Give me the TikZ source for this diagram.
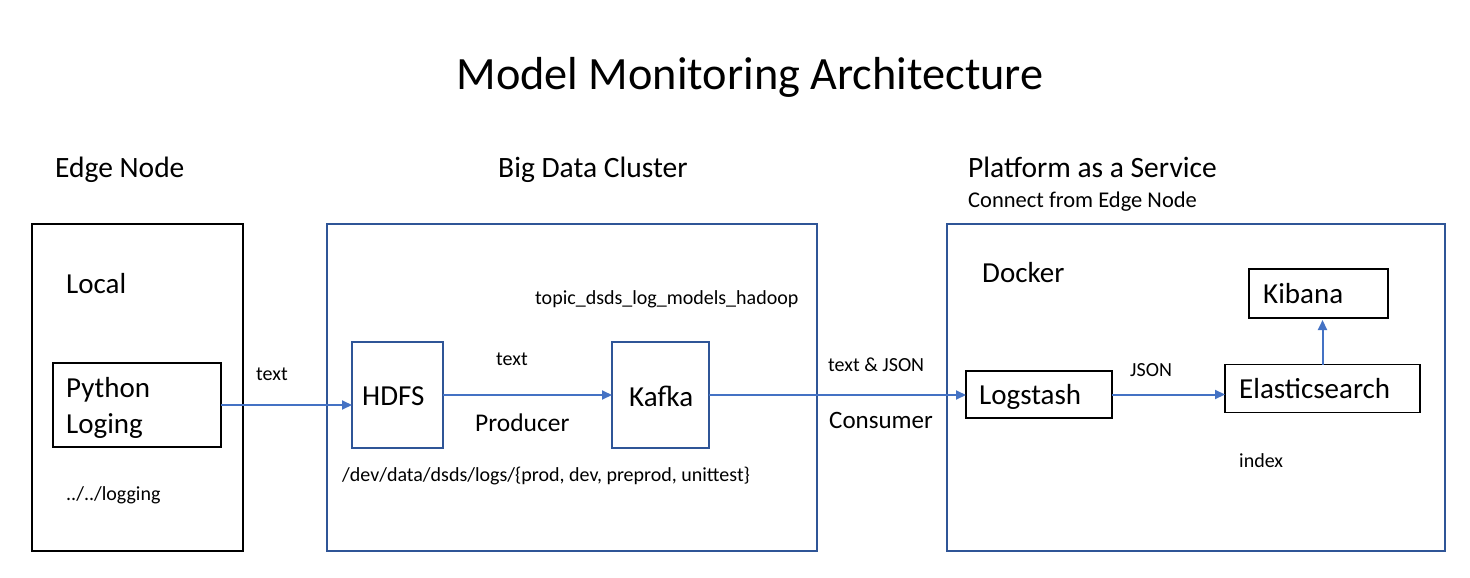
\documentclass[tikz,border=0pt]{standalone}
\usepackage{fontspec}
\setmainfont{Carlito}
\usetikzlibrary{arrows.meta}
\definecolor{boxblue}{HTML}{2F5597}
\definecolor{arrblue}{HTML}{4472C4}
\tikzset{
  frame/.style={draw=boxblue, line width=2pt, inner sep=0pt, outer sep=0pt},
  blackframe/.style={draw=black, line width=2.5pt, inner sep=0pt, outer sep=0pt},
  thinbox/.style={draw=black, line width=1.2pt, inner sep=0pt, outer sep=0pt},
  bluebox/.style={draw=boxblue, line width=2.5pt, inner sep=0pt, outer sep=0pt},
  arr/.style={draw=arrblue, line width=2pt, -{Triangle[length=10pt,width=9pt]}},
  txt/.style={anchor=base west, inner sep=0pt},
  titlefont/.style={font=\fontsize{46.3}{55}\selectfont},
  headfont/.style={font=\fontsize{29.5}{35}\selectfont},
  medfont/.style={font=\fontsize{29}{35}\selectfont},
  edgefont/.style={font=\fontsize{25.5}{31}\selectfont},
  subfont/.style={font=\fontsize{22.5}{27}\selectfont},
  smallfont/.style={font=\fontsize{20}{24}\selectfont},
}
\begin{document}
\begin{tikzpicture}[x=1pt,y=-1pt]
\useasboundingbox (0,0) rectangle (1470,578);
% title and headings
\node[titlefont, anchor=base, inner sep=0pt] (title) at (750,89) {Model Monitoring Architecture};
\node[headfont, txt] (hedge) at (55,177) {Edge Node};
\node[headfont, txt] (hbdc) at (498,177) {Big Data Cluster};
\node[headfont, txt] (hpaas) at (968,177) {Platform as a Service};
\node[subfont, txt] (hconn) at (968,207) {Connect from Edge Node};
% outer frames
\node[blackframe, minimum width=211pt, minimum height=327pt] (edge) at (137.5,387.5) {};
\node[frame, minimum width=490pt, minimum height=327pt] (bdc) at (572,387.5) {};
\node[frame, minimum width=498pt, minimum height=327pt] (paas) at (1196,387.5) {};
% edge node contents
\node[medfont, txt] (local) at (66,293) {Local};
\node[thinbox, minimum width=168pt, minimum height=84pt] (py) at (137,405) {};
\node[medfont, txt] (pyt1) at (66,397) {Python};
\node[medfont, txt] (pyt2) at (66,433) {Loging};
\node[smallfont, txt] (logpath) at (66,500) {../../logging};
% big data cluster contents
\node[bluebox, minimum width=91pt, minimum height=106pt] (hdfs) at (397.5,395) {};
\node[medfont, txt] (hdfst) at (362,405) {HDFS};
\node[bluebox, minimum width=97pt, minimum height=106pt] (kafka) at (660.5,395) {};
\node[medfont, txt] (kafkat) at (629,406) {Kafka};
\node[smallfont, txt] (topic) at (535,304) {topic\_dsds\_log\_models\_hadoop};
\node[smallfont, txt] (lab2) at (496,365) {text};
\node[edgefont, txt] (producer) at (475,431) {Producer};
\node[smallfont, txt] (devpath) at (342,481) {/dev/data/dsds/logs/\{prod, dev, preprod, unittest\}};
% between clusters
\node[smallfont, txt] (lab1) at (256,380) {text};
\node[smallfont, txt] (lab3) at (828,371) {text \& JSON};
\node[edgefont, font=\fontsize{25}{30}\selectfont, txt] (consumer) at (829,428) {Consumer};
% PaaS contents
\node[medfont, txt] (docker) at (982,282) {Docker};
\node[thinbox, minimum width=146pt, minimum height=47pt] (ls) at (1039,394.5) {};
\node[medfont, txt] (lst) at (979,404) {Logstash};
\node[smallfont, txt] (lab4) at (1130,376) {JSON};
\node[thinbox, minimum width=195pt, minimum height=48pt] (es) at (1322.5,388.5) {};
\node[medfont, txt] (est) at (1239,398) {Elasticsearch};
\node[thinbox, minimum width=139pt, minimum height=49pt] (kb) at (1318.5,293.5) {};
\node[medfont, txt] (kbt) at (1263,303) {Kibana};
\node[smallfont, txt] (index) at (1239,467) {index};
% connectors
\draw[arr] (py.east) -- (py.east -| hdfs.west);
\draw[arr] (hdfs.east |- kafka.west) -- (kafka.west);
\draw[arr] (kafka.east) -- (kafka.east -| ls.west);
\draw[arr] (ls.east) -- (ls.east -| es.west);
\draw[arr, shorten >=2pt] (es.north) -- (es.north |- kb.south);
\end{tikzpicture}
\end{document}
